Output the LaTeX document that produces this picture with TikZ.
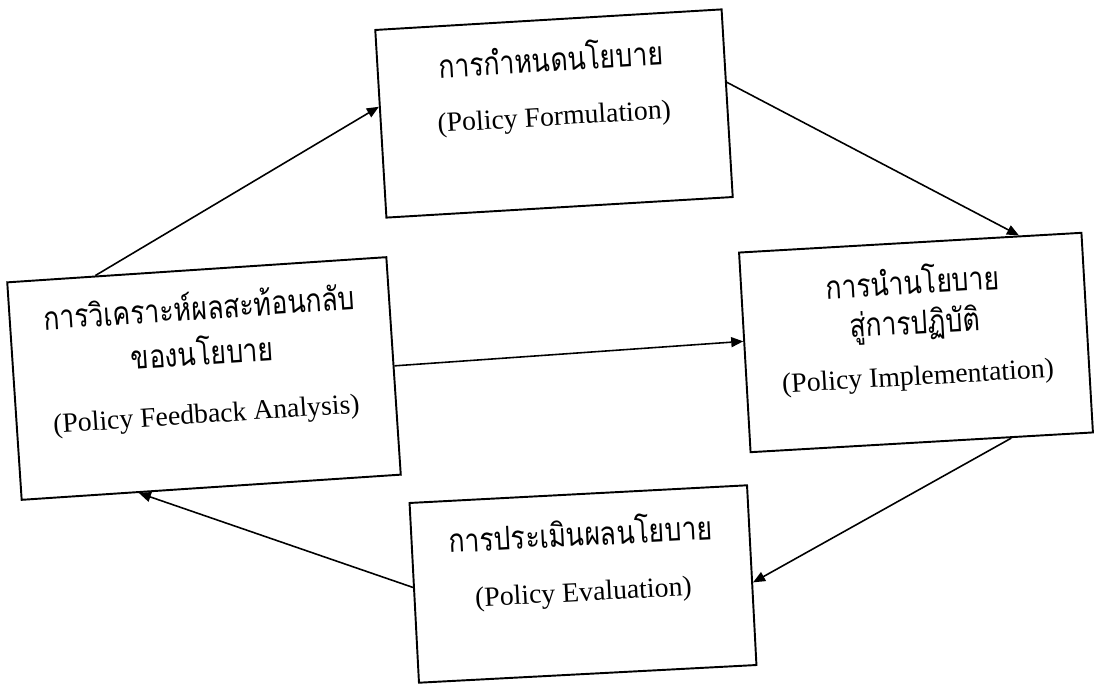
\documentclass[tikz,border=0pt]{standalone}
\usepackage{fontspec}
\setmainfont{Liberation Serif}
\newfontfamily\thaifont[Script=Thai,FakeStretch=0.82]{Loma}
\usetikzlibrary{arrows.meta,calc}
\tikzset{
  box/.style={draw=black, line width=1.1pt, fill=white, inner sep=0pt, rectangle},
  th/.style={anchor=base, inner sep=0pt, font=\thaifont\fontsize{18.5}{20}\selectfont},
  en/.style={anchor=base, inner sep=0pt, font=\fontsize{15.8}{19}\selectfont},
  arr/.style={line width=0.9pt, -{Triangle[length=0.24cm,width=0.2cm]}}
}
\begin{document}
\begin{tikzpicture}[x=0.02cm,y=-0.02cm]
\useasboundingbox[fill=white] (0,0) rectangle (1096,686);
% boxes
\node[box, rotate=3.4, minimum width=6.94cm, minimum height=3.76cm] (fo) at (554,113.5) {};
\node[box, rotate=3.3, minimum width=6.86cm, minimum height=4.0cm] (im) at (916,342.5) {};
\node[box, rotate=3.8, minimum width=7.6cm, minimum height=4.36cm] (fb) at (204,378.5) {};
\node[box, rotate=3.0, minimum width=6.76cm, minimum height=3.6cm] (ev) at (583,584) {};
% texts
\node[th, rotate=3.4] (fo1) at ($(fo.north)!1.06cm!(fo.south)$) {การกำหนดนโยบาย};
\node[en, rotate=3.4] (fo2) at ($(fo.north)!2.14cm!(fo.south)$) {(Policy Formulation)};
\node[th, rotate=3.3] (im1) at ($(im.north)!1.05cm!(im.south)$) {การนำนโยบาย};
\node[th, rotate=3.3] (im2) at ($(im.north)!1.85cm!(im.south)$) {สู่การปฏิบัติ};
\node[en, rotate=3.3] (im3) at ($(im.north)!2.87cm!(im.south)$) {(Policy Implementation)};
\node[th, rotate=3.8] (fb1) at ($(fb.north)!1.02cm!(fb.south)$) {การวิเคราะห์ผลสะท้อนกลับ};
\node[th, rotate=3.8] (fb2) at ($(fb.north)!1.93cm!(fb.south)$) {ของนโยบาย};
\node[en, rotate=3.8] (fb3) at ($(fb.north)!3.09cm!(fb.south)$) {(Policy Feedback Analysis)};
\node[th, rotate=3.0] (ev1) at ($(ev.north)!1.06cm!(ev.south)$) {การประเมินผลนโยบาย};
\node[en, rotate=3.0] (ev2) at ($(ev.north)!2.16cm!(ev.south)$) {(Policy Evaluation)};
% connectors
\draw[arr] ($(fb.north west)!0.234!(fb.north east)$) -- ($(fo.north west)!0.41!(fo.south west)$);
\draw[arr] ($(fo.north east)!0.39!(fo.south east)$) -- ($(im.north west)!0.816!(im.north east)$);
\draw[arr] ($(fb.north east)!0.50!(fb.south east)$) -- ($(im.north west)!0.445!(im.south west)$);
\draw[arr] ($(im.south west)!0.76!(im.south east)$) -- ($(ev.north east)!0.54!(ev.south east)$);
\draw[arr] ($(ev.north west)!0.47!(ev.south west)$) -- ($(fb.south west)!0.31!(fb.south east)$);
\end{tikzpicture}
\end{document}
